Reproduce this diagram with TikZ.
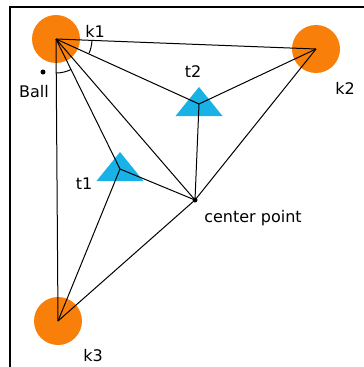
\documentclass[tikz,border=0pt]{standalone}
\usepackage{fontspec}
\setmainfont{DejaVu Sans}
\usepackage{xcolor}
\definecolor{ballorange}{RGB}{248,128,10}
\definecolor{targetblue}{RGB}{24,178,230}
\usetikzlibrary{positioning}
\tikzset{
  keeper/.style={
    circle, fill=ballorange, draw=none,
    minimum size=48pt, inner sep=0pt
  },
  lbl/.style={
    font=\fontsize{16}{19}\selectfont, inner sep=0pt, text=black
  },
  dot/.style={
    circle, fill=black, minimum size=5pt, inner sep=0pt
  },
  link/.style={line width=1pt, color=black},
  frame/.style={line width=2.2pt, color=black},
  pics/target/.style={
    code={\fill[targetblue] (0,-17) -- (23.5,12) -- (-23.5,12) -- cycle;}
  },
}

\begin{document}
\begin{tikzpicture}[x=1pt, y=-1pt]
  \useasboundingbox (0,0) rectangle (364,367);
  \fill[white] (0,0) rectangle (364,367);
  \draw[frame] (10,367) -- (10,7) -- (364,7);

  % keepers and targets
  \node (k1) [keeper] at (56,39)  {};
  \node (k2) [keeper] at (316,49) {};
  \node (k3) [keeper] at (58,321) {};
  \coordinate (t1) at (120,169);
  \coordinate (t2) at (199,104);
  \pic at (t1) {target};
  \pic at (t2) {target};
  \node (center) [dot] at (195,200) {};
  \node (ball)   [dot] at (43,72)   {};

  % labels
  \node (k1l)     [lbl] at (95,31)   {k1};
  \node (k2l)     [lbl] at (345,88)  {k2};
  \node (k3l)     [lbl] at (93,356)  {k3};
  \node (t1l)     [lbl] at (84,184)  {t1};
  \node (t2l)     [lbl] at (193,72)  {t2};
  \node (balll)   [lbl] at (34,92)   {Ball};
  \node (centerl) [lbl] at (253,218) {center point};

  % connections
  \draw [link] (k1.center) -- (k2.center);
  \draw [link] (k1.center) -- (k3.center);
  \draw [link] (k1.center) -- (t1);
  \draw [link] (k1.center) -- (t2);
  \draw [link] (k1.center) -- (center.center);
  \draw [link] (k2.center) -- (t2);
  \draw [link] (k2.center) -- (center.center);
  \draw [link] (k3.center) -- (t1);
  \draw [link] (k3.center) -- (center.center);
  \draw [link] (t1) -- (center.center);
  \draw [link] (t2) -- (center.center);

  % angle marks
  \draw [link] (k1.center) ++(3:36) arc[start angle=3, end angle=23, radius=36];
  \draw [link] (k1.center) ++(64:34) arc[start angle=64, end angle=90, radius=34];
\end{tikzpicture}
\end{document}
